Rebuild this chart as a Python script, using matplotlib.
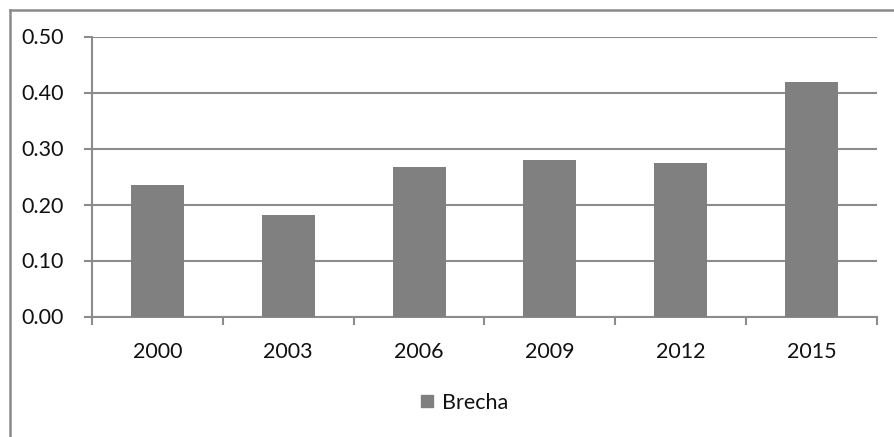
import matplotlib.pyplot as plt
from matplotlib.lines import Line2D
import numpy as np

plt.rcParams['font.family'] = ['Lato', 'DejaVu Sans']

# 数据
years = ['2000', '2003', '2006', '2009', '2012', '2015']
brecha = [0.234, 0.181, 0.267, 0.279, 0.275, 0.419]
y_ticks = [0.0, 0.1, 0.2, 0.3, 0.4, 0.5]

W, H = 894, 437
fig = plt.figure(figsize=(W / 100, H / 100), dpi=100)
ax = fig.add_axes([92 / W, 1 - 316.5 / H, (877 - 92) / W, (316.5 - 36.5) / H])

gray_line = '#8c8c8c'
bar_color = '#808080'
txt = '#111111'

x = np.arange(len(years))
ax.bar(x, brecha, width=0.405, color=bar_color, zorder=3, label='Brecha')

ax.set_xlim(-0.5, len(years) - 0.5)
ax.set_ylim(0, 0.5)
ax.set_yticks(y_ticks)
ax.set_yticklabels([f'{v:.2f}' for v in y_ticks], fontsize=15.5, color=txt)
ax.set_xticks(x)
ax.set_xticklabels(years, fontsize=15.5, color=txt)

# 网格
ax.grid(axis='y', color=gray_line, linewidth=1.5, zorder=0)
ax.set_axisbelow(True)

for s in ['top', 'right']:
    ax.spines[s].set_visible(False)
for s in ['left', 'bottom']:
    ax.spines[s].set_color(gray_line)
    ax.spines[s].set_linewidth(1.5)

ax.tick_params(axis='y', length=6, width=1.5, color=gray_line, pad=14)
ax.tick_params(axis='x', length=0, pad=18)
# x 轴刻度在类别边界
ax.set_xticks(np.arange(-0.5, len(years), 1), minor=True)
ax.tick_params(axis='x', which='minor', length=6, width=1.5, color=gray_line, direction='out')

# 外框
fig.add_artist(Line2D([10 / W, 10 / W], [0, 1 - 10 / H], color='#8a8a8a', lw=1.8, transform=fig.transFigure))
fig.add_artist(Line2D([10 / W, 1], [1 - 10 / H, 1 - 10 / H], color='#8a8a8a', lw=1.8, transform=fig.transFigure))

# 图例
handle = Line2D([], [], marker='s', linestyle='none', markersize=8, color=bar_color)
fig.legend([handle], ['Brecha'], loc='center', bbox_to_anchor=(462 / W, 1 - 403 / H),
           frameon=False, fontsize=15.5, handletextpad=0.2, handlelength=1.0,
           labelcolor=txt)

fig.savefig('out.png', dpi=100)
